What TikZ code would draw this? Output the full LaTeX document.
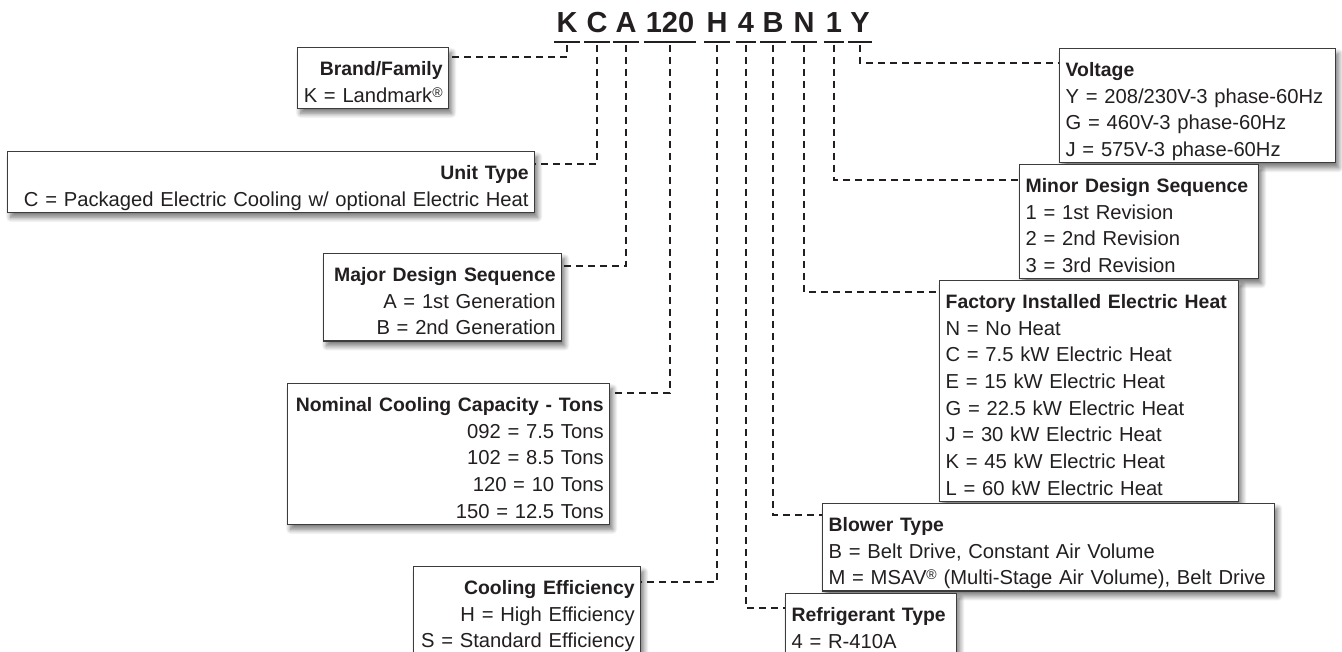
\documentclass[tikz,border=0pt]{standalone}
\usepackage{fontspec}
\setmainfont{Liberation Sans}
\usetikzlibrary{shadows.blur,calc}
\definecolor{ink}{HTML}{231F20}
\definecolor{frame}{HTML}{3C3C3C}
\newcommand{\regmark}{{\fontsize{14}{14}\selectfont\raisebox{5pt}{®}}}
\newcommand{\hd}[1]{\mbox{\bfseries\fontsize{19.4}{26.67}\selectfont #1}}
\newcommand{\li}[1]{\mbox{#1}}
\tikzset{
  box/.style={draw=frame, line width=1.3pt, fill=white, text=ink, inner xsep=6pt, inner ysep=0pt,
    text height=28pt, font=\fontsize{20.2}{26.67}\selectfont,
    execute at begin node={\hyphenpenalty=10000\hbadness=10000\hfuzz=50pt},
    blur shadow={shadow xshift=3pt, shadow yshift=-5pt, shadow blur radius=5pt, shadow blur steps=10, shadow opacity=55}},
  conn/.style={draw=ink, line width=2.4pt, dash pattern=on 7pt off 5pt},
  code/.style={text=ink, font=\fontsize{29}{29}\selectfont\bfseries, inner sep=0pt, anchor=base},
  uline/.style={draw=ink, line width=2.4pt},
}
\begin{document}
\begin{tikzpicture}[x=1pt,y=-1pt]
\useasboundingbox (0,0) rectangle (1342,652);
\clip (0,0) rectangle (1342,652);

% code letters
\node[code] (tK) at (567,33) {K};
\node[code] (tC) at (597,33) {C};
\node[code] (tA) at (626,33) {A};
\node[code] (tT) at (670,33) {120};
\node[code] (tH) at (717,33) {H};
\node[code] (tF) at (746,33) {4};
\node[code] (tB) at (773,33) {B};
\node[code] (tN) at (804,33) {N};
\node[code] (tO) at (834,33) {1};
\node[code] (tY) at (860,33) {Y};
\foreach \n in {tK,tC,tA,tT,tH,tF,tB,tN,tO,tY}{
  \draw[uline] ([xshift=-2pt,yshift=-9pt]\n.base west) -- ([xshift=2pt,yshift=-9pt]\n.base east);
}

% left boxes
\node[box, anchor=north west, text width=139pt, align=right, text depth=32.67pt] (brand) at (297,47)
  {\hd{Brand/Family}\\\li{K = Landmark\regmark}};
\node[box, anchor=north west, text width=515pt, align=right, text depth=32.67pt] (unit) at (7,151)
  {\hd{Unit Type}\\\li{C = Packaged Electric Cooling w/ optional Electric Heat}};
\node[box, anchor=north west, text width=226pt, align=right, text depth=59.33pt] (major) at (323,253)
  {\hd{Major Design Sequence}\\\li{A = 1st Generation}\\\li{B = 2nd Generation}};
\node[box, anchor=north west, text width=310pt, align=right, text depth=112.67pt] (nominal) at (287,383)
  {\hd{Nominal Cooling Capacity - Tons}\\\li{092 = 7.5 Tons}\\\li{102 = 8.5 Tons}\\\li{120 = 10 Tons}\\\li{150 = 12.5 Tons}};
\node[box, anchor=north west, text width=215pt, align=right, text depth=59.33pt] (cooling) at (413,566)
  {\hd{Cooling Efficiency}\\\li{H = High Efficiency}\\\li{S = Standard Efficiency}};

% right boxes
\node[box, anchor=north west, text width=264pt, align=left, text depth=86pt] (voltage) at (1059,48)
  {\hd{Voltage}\\\li{Y = 208/230V-3 phase-60Hz}\\\li{G = 460V-3 phase-60Hz}\\\li{J = 575V-3 phase-60Hz}};
\node[box, anchor=north west, text width=227pt, align=left, text depth=86pt] (minor) at (1019,164)
  {\hd{Minor Design Sequence}\\\li{1 = 1st Revision}\\\li{2 = 2nd Revision}\\\li{3 = 3rd Revision}};
\node[box, anchor=north west, text width=287pt, align=left, text depth=192.67pt] (factory) at (939,280)
  {\hd{Factory Installed Electric Heat}\\\li{N = No Heat}\\\li{C = 7.5 kW Electric Heat}\\\li{E = 15 kW Electric Heat}\\\li{G = 22.5 kW Electric Heat}\\\li{J = 30 kW Electric Heat}\\\li{K = 45 kW Electric Heat}\\\li{L = 60 kW Electric Heat}};
\node[box, anchor=north west, text width=440pt, align=left, text depth=59.33pt] (blower) at (822,503)
  {\hd{Blower Type}\\\li{B = Belt Drive, Constant Air Volume}\\\li{M = MSAV\regmark{} (Multi-Stage Air Volume), Belt Drive}};
\node[box, anchor=north west, text width=159pt, align=left, text depth=32.67pt] (refrig) at (785,593)
  {\hd{Refrigerant Type}\\\li{4 = R-410A}};

% connectors
\draw[conn] ([yshift=-12pt]tK.base) |- ([yshift=-10pt]brand.north east);
\draw[conn] ([yshift=-12pt]tC.base) |- ([yshift=-13pt]unit.north east);
\draw[conn] ([yshift=-12pt]tA.base) |- ([yshift=-13pt]major.north east);
\draw[conn] ([yshift=-12pt]tT.base) |- ([yshift=-10pt]nominal.north east);
\draw[conn] ([yshift=-12pt]tH.base) |- ([yshift=-16pt]cooling.north east);
\draw[conn] ([yshift=-12pt]tF.base) |- ([yshift=-15pt]refrig.north west);
\draw[conn] ([yshift=-12pt]tB.base) |- ([yshift=-12pt]blower.north west);
\draw[conn] ([yshift=-12pt]tN.base) |- ([yshift=-12pt]factory.north west);
\draw[conn] ([yshift=-12pt]tO.base) |- ([yshift=-16pt]minor.north west);
\draw[conn] ([yshift=-12pt]tY.base) |- ([yshift=-15pt]voltage.north west);
\end{tikzpicture}
\end{document}
